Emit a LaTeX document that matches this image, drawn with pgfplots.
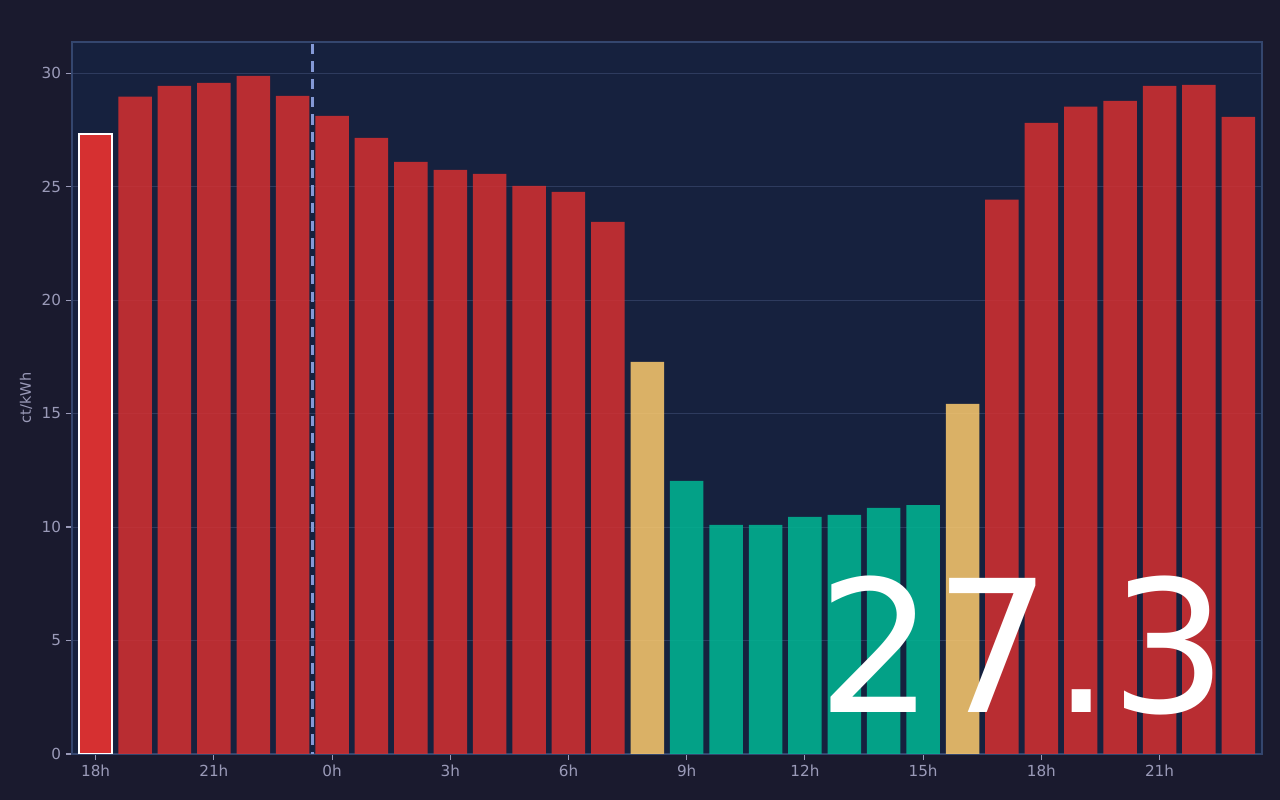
\documentclass[border=0pt]{standalone}
\usepackage{pgfplots}
\pgfplotsset{compat=1.18}
\usepackage{fontspec}
\setmainfont{DejaVu Sans}
\definecolor{figbg}{HTML}{1A1A2E}
\definecolor{axbg}{HTML}{16213E}
\definecolor{redc}{HTML}{D63031}
\definecolor{tealc}{HTML}{00B894}
\definecolor{yelc}{HTML}{FDCB6E}
\definecolor{tickc}{HTML}{9A9AB8}
\definecolor{gridc}{HTML}{2E3B5E}
\definecolor{spinec}{HTML}{34466E}
\definecolor{dashc}{HTML}{8499D6}
\begin{document}
\begin{tikzpicture}
\fill[figbg] (0,0) rectangle (12.8in,8in);
\path[use as bounding box] (0,0) rectangle (12.8in,8in);
\begin{axis}[
  at={(0.72in,0.46in)}, anchor=south west,
  scale only axis, width=11.9in, height=7.12in,
  xmin=-0.6, xmax=29.6, ymin=0, ymax=31.37,
  axis background/.style={fill=axbg},
  ymajorgrids, grid style={gridc, line width=0.75pt},
  axis line style={spinec, line width=0.9pt},
  tick pos=left, tick align=outside,
  major tick length=0.06in,
  tick style={tickc, line width=0.8pt},
  ytick={0,5,10,15,20,25,30},
  xtick={0,3,6,9,12,15,18,21,24,27},
  xticklabels={18h,21h,0h,3h,6h,9h,12h,15h,18h,21h},
  ticklabel style={font=\fontsize{11}{13}\selectfont, text=tickc},
  /pgf/number format/assume math mode=true,
  ylabel={ct/kWh},
  ylabel style={at={(axis description cs:-0.0387,0.5)}, anchor=center,
    font=\fontsize{10.5}{12}\selectfont, text=tickc},
]
% highlighted current hour
\addplot[ybar, bar width=0.85, bar shift=0pt, fill=redc, draw=white, line width=1.5pt]
  coordinates {(0,27.3)};
% expensive hours
\addplot[ybar, bar width=0.85, bar shift=0pt, fill=redc, fill opacity=0.85, draw=none]
  coordinates {(1,28.96) (2,29.44) (3,29.57) (4,29.88) (5,29.00) (6,28.12) (7,27.15)
    (8,26.09) (9,25.74) (10,25.56) (11,25.03) (12,24.77) (13,23.45)
    (23,24.42) (24,27.81) (25,28.52) (26,28.78) (27,29.44) (28,29.48) (29,28.07)};
% medium hours
\addplot[ybar, bar width=0.85, bar shift=0pt, fill=yelc, fill opacity=0.85, draw=none]
  coordinates {(14,17.28) (22,15.43)};
% cheap hours
\addplot[ybar, bar width=0.85, bar shift=0pt, fill=tealc, fill opacity=0.85, draw=none]
  coordinates {(15,12.03) (16,10.09) (17,10.09) (18,10.45) (19,10.53) (20,10.84) (21,10.97)};
% day boundary
\addplot[dashc, line width=2pt, dash pattern=on 7.4pt off 5.4pt, line cap=butt]
  coordinates {(5.5,31.3) (5.5,0)};
\node[anchor=base, text=white, font=\fontsize{133}{133}\selectfont, inner sep=0pt]
  at (axis cs:23.53,1.85) {27.3};
\end{axis}
\end{tikzpicture}
\end{document}
